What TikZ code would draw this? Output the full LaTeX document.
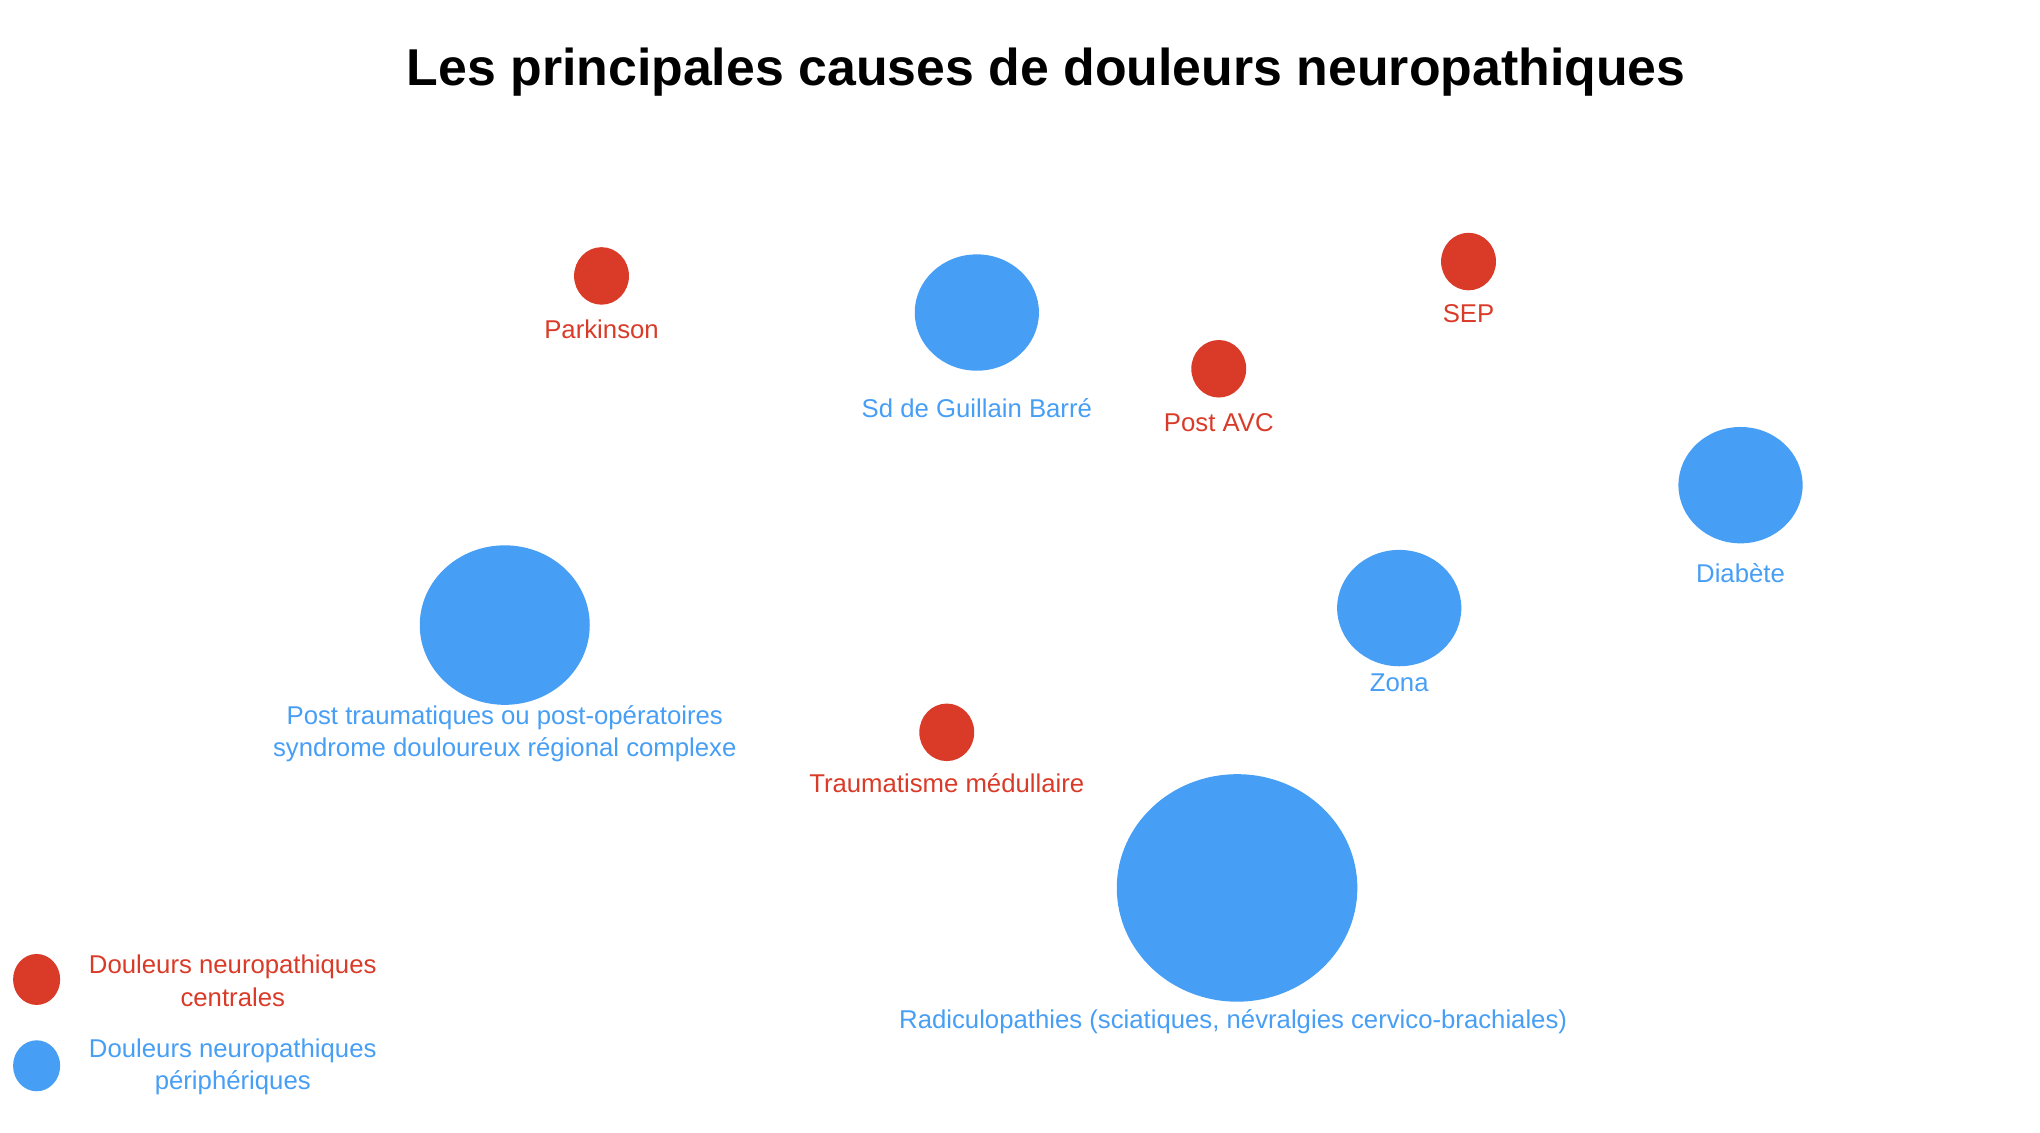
\documentclass[tikz,border=0pt]{standalone}
\usepackage{fontspec}
\setmainfont{Liberation Sans}
\usepackage{graphicx}
\usetikzlibrary{shapes.geometric}
\definecolor{cred}{HTML}{D93B28}
\definecolor{cblue}{HTML}{479EF5}
\tikzset{
  dot/.style={shape=ellipse,fill=#1,inner sep=0pt},
  lab/.style={text=#1,font=\fontsize{11.2}{14}\selectfont,align=center,inner sep=0pt}
}
\begin{document}
\begin{tikzpicture}[x=0.02cm,y=-0.02cm]
\useasboundingbox (0,0) rectangle (1560,866);
\node (title) at (800,55) {\resizebox{19.56cm}{!}{\bfseries Les principales causes de douleurs neuropathiques}};
% central causes
\node [dot=cred,minimum width=0.84cm,minimum height=0.88cm] (park) at (460,211) {};
\node [lab=cred] (parkl) at (460,252) {Parkinson};
\node [dot=cred,minimum width=0.84cm,minimum height=0.88cm] (avc) at (932,282) {};
\node [lab=cred] (avcl) at (932,323) {Post AVC};
\node [dot=cred,minimum width=0.84cm,minimum height=0.88cm] (sep) at (1123,200) {};
\node [lab=cred] (sepl) at (1123,240) {SEP};
\node [dot=cred,minimum width=0.84cm,minimum height=0.88cm] (trauma) at (724,560) {};
\node [lab=cred] (traumal) at (724,599) {Traumatisme médullaire};
% peripheral causes
\node [dot=cblue,minimum width=1.9cm,minimum height=1.78cm] (gb) at (747,239) {};
\node [lab=cblue] (gbl) at (747,312) {Sd de Guillain Barré};
\node [dot=cblue,minimum width=1.9cm,minimum height=1.78cm] (diab) at (1331,371) {};
\node [lab=cblue] (diabl) at (1331,438) {Diabète};
\node [dot=cblue,minimum width=1.9cm,minimum height=1.78cm] (zona) at (1070,465) {};
\node [lab=cblue] (zonal) at (1070,522) {Zona};
\node [dot=cblue,minimum width=2.6cm,minimum height=2.44cm] (post) at (386,478) {};
\node [lab=cblue] (postl) at (386,561) {Post traumatiques ou post-opératoires\\syndrome douloureux régional complexe};
\node [dot=cblue,minimum width=3.68cm,minimum height=3.48cm] (radic) at (946,679) {};
\node [lab=cblue] (radicl) at (943,781) {Radiculopathies (sciatiques, névralgies cervico-brachiales)};
% legend
\node [dot=cred,minimum width=0.72cm,minimum height=0.78cm] (legc) at (28,749) {};
\node [lab=cred] (legcl) at (178,750) {Douleurs neuropathiques\\centrales};
\node [dot=cblue,minimum width=0.72cm,minimum height=0.78cm] (legp) at (28,815) {};
\node [lab=cblue] (legpl) at (178,816) {Douleurs neuropathiques\\périphériques};
\end{tikzpicture}
\end{document}
